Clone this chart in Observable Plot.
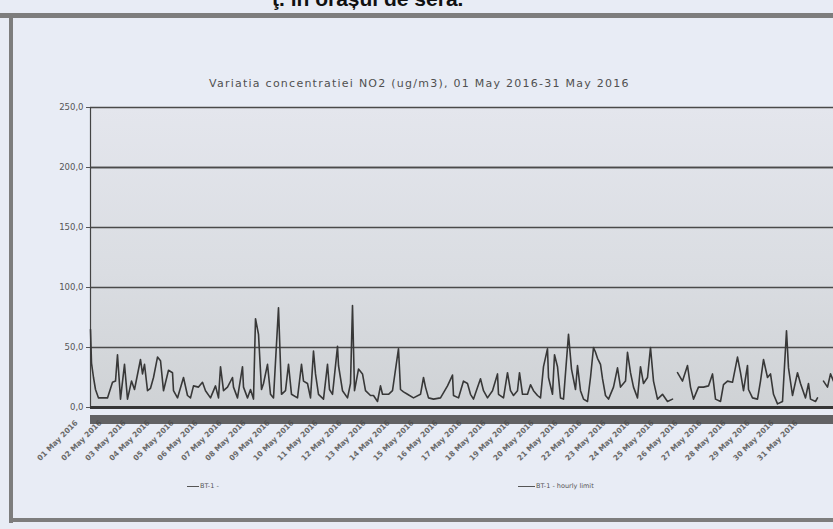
<!DOCTYPE html>
<html>
<head>
<meta charset="utf-8">
<script src="https://cdn.jsdelivr.net/npm/d3@7"></script>
<script src="https://cdn.jsdelivr.net/npm/@observablehq/plot@0.6"></script>
<style>
  html, body { margin: 0; padding: 0; }
  body { width: 833px; height: 529px; overflow: hidden; position: relative; background: #e8ecf5; font-family: "DejaVu Sans", sans-serif; }
  #chart { position: absolute; left: 0; top: 0; }
  #chart svg { overflow: hidden; display: block; }
  .abs { position: absolute; white-space: nowrap; }
</style>
</head>
<body>
<div class="abs" style="left:0;top:13px;width:833px;height:5px;background:#7d7d7d;"></div>
<div class="abs" style="left:9px;top:13px;width:4px;height:510px;background:#7d7d7d;"></div>
<div class="abs" style="left:9px;top:518px;width:830px;height:4px;background:#7d7d7d;"></div>
<div class="abs" style="left:272px;top:-13px;font:bold 21px 'Liberation Sans',Arial,sans-serif;color:#111;">ţ. în orașul de seră.</div>
<div id="chart"></div>
<div class="abs" id="title" style="left:209px;top:77px;font-size:11px;letter-spacing:1.25px;color:#505050;"></div>
<div class="abs" style="left:187px;top:482px;font-size:6.5px;color:#555;"><span style="display:inline-block;width:12px;height:0;border-top:1.3px solid #555;vertical-align:middle;margin-right:1px;"></span><span id="leg1"></span></div>
<div class="abs" style="left:518px;top:482px;font-size:6.5px;color:#555;"><span style="display:inline-block;width:17px;height:0;border-top:1.3px solid #555;vertical-align:middle;margin-right:1px;"></span><span id="leg2"></span></div>
<script>
// ---- data (hours since 01 May 2016 00:00, hourly NO2 ug/m3) ----
const title = "Variatia concentratiei  NO2 (ug/m3),  01 May 2016-31 May 2016";
const seriesNames = ["BT-1 -", "BT-1 - hourly limit"];
const hourlyLimit = 200;
const yTicks = [0, 50, 100, 150, 200, 250];
const dayLabels = ["01 May 2016","02 May 2016","03 May 2016","04 May 2016","05 May 2016","06 May 2016","07 May 2016","08 May 2016","09 May 2016","10 May 2016","11 May 2016","12 May 2016","13 May 2016","14 May 2016","15 May 2016","16 May 2016","17 May 2016","18 May 2016","19 May 2016","20 May 2016","21 May 2016","22 May 2016","23 May 2016","24 May 2016","25 May 2016","26 May 2016","27 May 2016","28 May 2016","29 May 2016","30 May 2016","31 May 2016"];
const hourOfMonth = [0,1,3,5,8,17,22,25,27,30,34,37,41,44,50,52,54,57,60,63,67,70,73,78,82,83,87,93,97,100,103,108,112,115,120,125,128,130,133,137,142,143,147,152,153,157,160,163,165,168,171,173,177,180,183,188,191,195,198,201,207,211,213,217,220,223,225,228,233,237,239,242,247,248,252,257,260,262,264,268,272,275,280,283,287,290,292,298,302,308,310,313,317,323,330,333,335,338,343,350,357,362,363,368,373,377,380,383,390,393,397,402,407,408,413,417,420,423,427,429,432,437,440,443,447,450,453,457,458,462,464,467,470,473,478,481,485,487,490,493,497,500,503,505,507,510,512,515,518,523,527,530,535,537,540,543,547,550,553,557,560,563,567,572,577,582,584,587,592,597,600,603,608,613,618,622,625,630,633,637,642,647,650,653,657,658,662,667,670,673,677,680,683,687,692,696,698,702,707,710,715,718,720,725,727,730,733,737,740,743];
const no2 = [65,37,25,15,8,8,21,22,44,7,36,7,22,15,40,28,36,14,16,25,42,39,14,31,29,14,8,25,10,8,18,17,21,14,8,18,8,34,14,17,25,17,8,34,17,8,15,7,74,61,15,20,36,11,8,83,11,14,36,11,8,36,22,20,8,47,28,11,7,36,15,11,51,35,14,8,20,85,14,32,28,14,10,10,5,18,11,11,14,49,15,13,11,8,11,25,17,8,7,8,18,27,10,8,22,20,11,7,24,14,8,14,28,11,8,29,14,10,14,29,11,11,19,14,10,8,34,49,25,11,44,34,8,7,61,32,15,35,14,7,5,25,50,46,41,36,24,10,7,17,33,17,22,46,29,17,8,34,20,25,50,22,7,11,5,7,null,29,22,35,17,7,17,17,18,28,7,5,19,22,21,42,29,14,35,15,8,7,22,40,25,28,11,3,5,64,33,10,29,20,8,20,7,5,8,null,22,17,28,22];

const data = hourOfMonth.map((h, i) => ({h, v: no2[i]}));
const hourTicks = d3.range(0, 744, 1);
const dayTicks = dayLabels.map((_, i) => i * 24);

document.getElementById("title").textContent = title;
document.getElementById("leg1").textContent = seriesNames[0];
document.getElementById("leg2").textContent = seriesNames[1];

const plot = Plot.plot({
  width: 833,
  height: 529,
  marginLeft: 90,
  marginRight: 0,
  marginTop: 107,
  marginBottom: 122,
  style: {background: "transparent", fontFamily: "DejaVu Sans, sans-serif"},
  x: {domain: [0, 743], axis: null},
  y: {domain: [0, 250], axis: null},
  marks: [
    Plot.frame({fill: "url(#plotbg)", stroke: null}),
    Plot.gridY(yTicks.filter(d => d > 0), {stroke: "#4a4a4a", strokeOpacity: 1, strokeWidth: 1.3}),
    Plot.ruleY([hourlyLimit], {stroke: "#4a4a4a", strokeWidth: 1.3}),
    Plot.axisY(yTicks, {tickSize: 4, tickPadding: 3, fontSize: 8.5, fill: "#555", stroke: "#555", tickFormat: d => d.toFixed(1).replace(".", ","), label: null}),
    Plot.ruleX([0], {stroke: "#444", strokeWidth: 1.2}),
    Plot.line(data, {x: "h", y: "v", stroke: "#383838", strokeWidth: 1.6, curve: "linear"}),
    Plot.ruleY([0], {stroke: "#353535", strokeWidth: 3}),
    Plot.text(dayTicks, {x: d => d, y: 0, text: (d, i) => dayLabels[i], rotate: -45, textAnchor: "end", dy: 14, dx: -14, fontSize: 7.5, fill: "#6a6a6a", fontWeight: "bold"}),
    Plot.axisX(hourTicks, {tickSize: 9, tickFormat: () => "", stroke: "#4a4a4a", strokeOpacity: 0.85, strokeWidth: 1, dy: 8, label: null})
  ]
});

const defs = document.createElementNS("http://www.w3.org/2000/svg", "defs");
defs.innerHTML = '<linearGradient id="plotbg" x1="0" y1="0" x2="0" y2="1"><stop offset="0" stop-color="#e4e6ed"/><stop offset="0.55" stop-color="#dadde2"/><stop offset="1" stop-color="#cfd2d5"/></linearGradient>';
plot.insertBefore(defs, plot.firstChild);
document.getElementById("chart").appendChild(plot);
</script>
</body>
</html>
